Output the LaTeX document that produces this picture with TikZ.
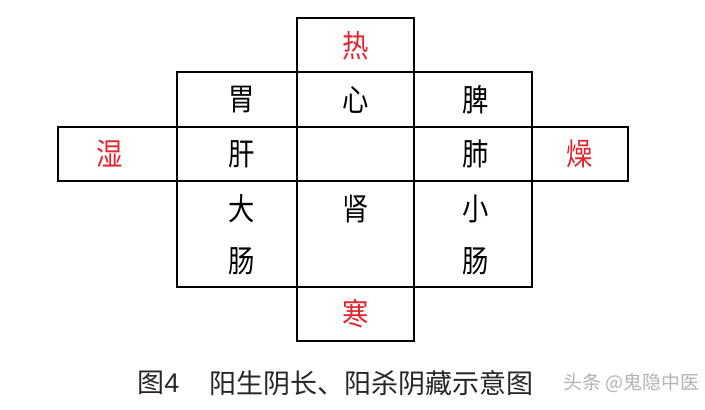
\documentclass[tikz,border=0pt]{standalone}
\usepackage{fontspec}
\usepackage{tikz}
\setmainfont{Liberation Sans}
\newfontfamily\cjk{Noto Sans CJK SC}
\newfontfamily\cjknarrow[FakeStretch=0.85]{Noto Sans CJK SC}
\definecolor{qired}{HTML}{E3262E}
\definecolor{markgray}{HTML}{B4B4B4}
\tikzset{
	hline/.style={draw=black,line width=1pt,line cap=rect},
	vline/.style={draw=black,line width=0.7pt},
	organ/.style={font=\cjknarrow\fontsize{15.5}{15.5}\selectfont,text=black,inner sep=0pt},
	qi/.style={organ,text=qired},
	caption/.style={font=\fontsize{13.5}{13.5}\selectfont,text=black!85,inner sep=0pt},
}

\begin{document}
\begin{tikzpicture}[x=0.5pt,y=-0.5pt]
	\useasboundingbox[fill=white] (0,0) rectangle (705,409);
	% horizontal rules: y / from / to
	\foreach \y/\a/\b in {18/297/414, 72/177/532, 127/58/628, 181/58/628, 287/177/532, 341/297/414}
		\draw[hline] (\a,\y) -- (\b,\y);
	% vertical rules: x / from / to
	\foreach \x/\a/\b in {58/127/181, 177/72/287, 297/18/341, 414/18/341, 532/72/287, 628/127/181}
		\draw[vline] (\x,\a) -- (\x,\b);
	% the four qi
	\node[qi] (re) at (356,46) {热};
	\node[qi] (shi) at (110,154) {湿};
	\node[qi] (zao) at (580,154) {燥};
	\node[qi] (han) at (356,314) {寒};
	% organs
	\node[organ] (wei) at (242,100) {胃};
	\node[organ] (xin) at (356,100) {心};
	\node[organ] (pi) at (476,100) {脾};
	\node[organ] (gan) at (242,154) {肝};
	\node[organ] (fei) at (476,154) {肺};
	\node[organ] (da) at (242,209) {大};
	\node[organ] (dachang) at (242,261) {肠};
	\node[organ] (shen) at (356,209) {肾};
	\node[organ] (xiao) at (476,209) {小};
	\node[organ] (xiaochang) at (476,261) {肠};
	% caption
	\node[caption,anchor=west] (fignum) at (137,383) {{\cjk 图}4};
	\node[caption,anchor=west] (title) at (209,383) {\cjk 阳生阴长、阳杀阴藏示意图};
	\node[caption,anchor=east,text=markgray,font=\cjk\fontsize{9.5}{9.5}\selectfont] (mark) at (700,383) {头条 @鬼隐中医};
\end{tikzpicture}
\end{document}
